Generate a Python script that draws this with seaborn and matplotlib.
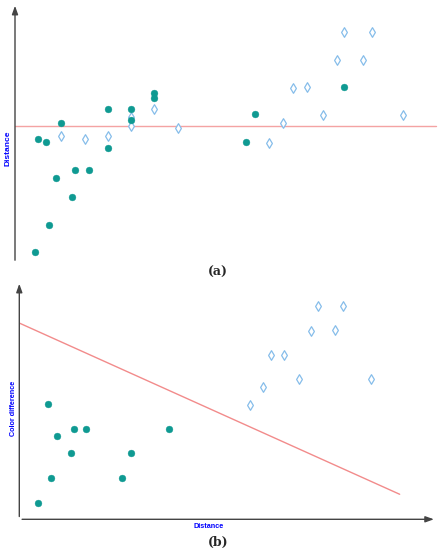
import numpy as np
import pandas as pd
import seaborn as sns
import matplotlib.pyplot as plt

# panel (a) values
a_fill_x = [20, 34, 23, 31, 41, 46, 57, 60, 74, 93, 93, 116, 116, 139, 139, 231, 240, 329]
a_fill_y = [11, 38, 124, 121, 85, 140, 66, 93, 93, 154, 115, 154, 143, 170, 165, 121, 149, 176]
a_open_x = [46, 70, 93, 116, 116, 139, 163, 254, 268, 278, 292, 308, 322, 329, 348, 357, 388]
a_open_y = [127, 124, 127, 146, 137, 154, 135, 120, 140, 175, 176, 148, 203, 231, 203, 231, 148]
a_line_x = [0, 421]
a_line_y = [137, 137]

# panel (b) values
b_fill_x = [19, 29, 32, 38, 52, 55, 67, 103, 112, 150]
b_fill_y = [16, 115, 41, 83, 66, 90, 90, 41, 66, 90]
b_open_x = [230, 243, 251, 264, 279, 291, 298, 315, 323, 351]
b_open_y = [114, 132, 164, 164, 140, 188, 213, 189, 213, 140]
b_line_x = [0, 380]
b_line_y = [196, 25]

teal = "#0f9a92"
light_blue = "#86bdea"

sns.set_style("white")
plt.rcParams['font.family'] = ['Liberation Sans', 'DejaVu Sans']
fig = plt.figure(figsize=(4.44, 5.5), dpi=100)

W, H = 444, 550
ax1 = fig.add_axes([15 / W, 1 - 263 / H, 425 / W, 260 / H])
ax2 = fig.add_axes([19.3 / W, 1 - 519.3 / H, 417.4 / W, 238.3 / H])


def draw(ax, fx, fy, ox, oy, lx, ly, xlim, ylim, line_color):
    sns.lineplot(x=lx, y=ly, ax=ax, color=line_color, linewidth=1.0, zorder=1)
    sns.scatterplot(x=fx, y=fy, ax=ax, color=teal, s=24, edgecolor=teal, linewidth=0.3, zorder=3)
    sns.scatterplot(x=ox, y=oy, ax=ax, marker="d", s=24, facecolor="white",
                    edgecolor=light_blue, linewidth=0.9, zorder=2)
    ax.set_xlim(*xlim)
    ax.set_ylim(*ylim)
    ax.set_xticks([])
    ax.set_yticks([])
    for s in ax.spines.values():
        s.set_visible(False)
    ax.patch.set_alpha(0)


draw(ax1, a_fill_x, a_fill_y, a_open_x, a_open_y, a_line_x, a_line_y, (0, 425), (0, 260), "#f4a3a3")
draw(ax2, b_fill_x, b_fill_y, b_open_x, b_open_y, b_line_x, b_line_y, (0, 417), (0, 238), "#f28b8b")

arrow = dict(arrowstyle="-|>,head_length=0.5,head_width=0.18", color="#444444", lw=1.0)
ax1.annotate("", xy=(0, 1.0), xytext=(0, 0), xycoords="axes fraction", arrowprops=arrow)
ax2.annotate("", xy=(0, 1.0), xytext=(0, 0), xycoords="axes fraction", arrowprops=arrow)
ax2.annotate("", xy=(1.0, 0), xytext=(0, 0), xycoords="axes fraction", arrowprops=arrow)

fig.text(8 / W, 1 - 148 / H, "Distance", rotation=90, color="blue", fontsize=6,
         fontweight="bold", ha="center", va="center")
fig.text(14 / W, 1 - 408 / H, "Color difference", rotation=90, color="blue", fontsize=5.2,
         fontweight="bold", ha="center", va="center")
fig.text(209 / W, 1 - 527 / H, "Distance", color="blue", fontsize=5.2,
         fontweight="bold", ha="center", va="center")
fig.text(218 / W, 1 - 272.5 / H, "(a)", fontsize=9, fontweight="bold", family="DejaVu Serif",
         ha="center", va="center")
fig.text(218 / W, 1 - 542 / H, "(b)", fontsize=9, fontweight="bold", family="DejaVu Serif",
         ha="center", va="center")

fig.savefig("out.png", dpi=100)
